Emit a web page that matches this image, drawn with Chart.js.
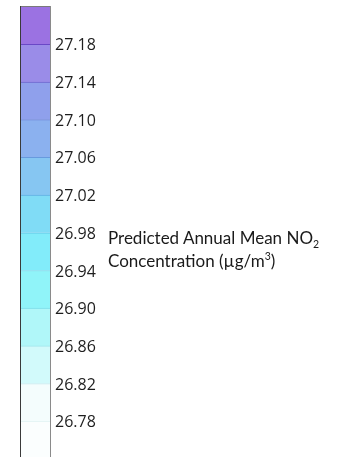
<!DOCTYPE html>
<html>
<head>
<meta charset="utf-8">
<script src="https://cdn.jsdelivr.net/npm/chart.js@4/dist/chart.umd.min.js"></script>
<style>
  html, body { margin: 0; padding: 0; background: #ffffff; overflow: hidden; }
  #wrap { position: absolute; left: 0; top: 0; width: 345px; height: 470px; }
  #label {
    position: absolute; left: 108px; top: 226px;
    font-family: Lato, "Open Sans", sans-serif; font-size: 17px; line-height: 23px;
    color: #1a1a1a; white-space: nowrap;
  }
  #label sub, #label sup { font-size: 10.5px; line-height: 0; }
</style>
</head>
<body>
<div id="wrap"><canvas id="c"></canvas></div>
<div id="label">Predicted Annual Mean NO<sub>2</sub><br>Concentration (µg/m<sup>3</sup>)</div>
<script>
// Class boundaries of the colour scale (µg/m³), bottom to top
const binEdges = [26.74, 26.78, 26.82, 26.86, 26.90, 26.94, 26.98, 27.02, 27.06, 27.10, 27.14, 27.18, 27.22];
// Fill colour of each class, bottom to top
const binColors = ['#fbfefe', '#f4fdfd', '#d2fafb', '#b0f7f9', '#90f4f9', '#82ecfa',
                   '#80dcf6', '#86c6f2', '#8bb1ef', '#8fa0ec', '#9a8ce8', '#9b72e2'];
// Labelled ticks on the scale
const tickValues = [26.78, 26.82, 26.86, 26.90, 26.94, 26.98, 27.02, 27.06, 27.10, 27.14, 27.18];
// Colour of the divider along the upper edge of each class, bottom to top
const dividerColors = ['#e6f5f5', '#c6ecef', '#9ee4ea', '#7adde8', '#6ad4ea', '#62c6e7',
                       '#62afe3', '#679ade', '#6c85d6', '#6f66cf', '#6a48c6', '#9b72e2'];

const lastBin = binColors.length - 1;
const datasets = binColors.map((color, i) => ({
  label: binEdges[i].toFixed(2) + '–' + binEdges[i + 1].toFixed(2),
  data: [[binEdges[i], binEdges[i + 1]]],
  backgroundColor: color,
  borderColor: dividerColors[i],
  borderWidth: { top: i === lastBin ? 0 : 1, bottom: 0, left: 0, right: 0 },
  borderSkipped: false,
  grouped: false,
  categoryPercentage: 1,
  barPercentage: 1
}));

new Chart(document.getElementById('c'), {
  type: 'bar',
  data: { labels: ['NO2'], datasets },
  options: {
    responsive: true,
    maintainAspectRatio: false,
    animation: false,
    layout: { padding: { left: 20, top: 6.6, right: 0, bottom: 11 } },
    plugins: { legend: { display: false }, tooltip: { enabled: false }, title: { display: false } },
    scales: {
      x: {
        position: 'top',
        ticks: { display: false },
        grid: { display: false, drawTicks: false },
        border: { display: true, z: 2, color: '#7a7a7a', width: 1 },
        afterFit: s => { s.height = 0; }
      },
      yl: {
        position: 'left',
        min: binEdges[0],
        max: binEdges[binEdges.length - 1],
        ticks: { display: false },
        grid: { display: false, drawTicks: false },
        border: { display: true, z: 2, color: '#3a3a3a', width: 1 },
        afterFit: s => { s.width = 0; s.paddingTop = 0; s.paddingBottom = 0; }
      },
      y: {
        position: 'right',
        min: binEdges[0],
        max: binEdges[binEdges.length - 1],
        afterBuildTicks: s => { s.ticks = tickValues.map(v => ({ value: v })); },
        ticks: {
          padding: 5,
          labelOffset: 1.5,
          color: '#1e1e1e',
          font: { family: '"Open Sans", sans-serif', size: 16 },
          callback: v => Number(v).toFixed(2)
        },
        grid: { display: false, drawTicks: false },
        border: { display: true, z: 2, color: '#8a8a8a', width: 1 },
        afterFit: s => { s.width = 295; s.paddingTop = 0; s.paddingBottom = 0; }
      }
    }
  }
});
</script>
</body>
</html>
